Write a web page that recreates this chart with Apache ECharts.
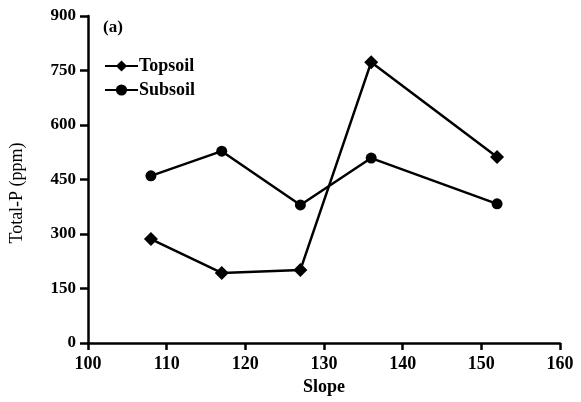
<!DOCTYPE html>
<html><head><meta charset="utf-8">
<script src="https://cdn.jsdelivr.net/npm/echarts@6/dist/echarts.min.js"></script>
<style>html,body{margin:0;padding:0;background:#fff}#c{width:581px;height:402px}</style>
</head><body><div id="c"></div>
<script>
const slopes = [108, 117, 127, 136, 152];
const topsoil = [286, 193, 201, 773, 512];
const subsoil = [460, 528, 380, 509, 383];
const xTicks = [100, 110, 120, 130, 140, 150, 160];
const yTicks = [0, 150, 300, 450, 600, 750, 900];

const FONT = 'Liberation Serif';
const chart = echarts.init(document.getElementById('c'), null, {renderer: 'canvas'});
const pair = (xs, ys) => xs.map((x, i) => [x, ys[i]]);
chart.setOption({
  animation: false,
  backgroundColor: '#fff',
  textStyle: {fontFamily: FONT, color: '#000'},
  grid: {left: 88, right: 21, top: 16, bottom: 59},
  legend: {
    orient: 'vertical', left: 104, top: 57, padding: 0, itemWidth: 33, itemHeight: 14, itemGap: 6,
    textStyle: {fontFamily: FONT, fontSize: 18, fontWeight: 'bold', color: '#000', padding: [0, 0, 0, -4]},
    data: [{name: 'Topsoil'}, {name: 'Subsoil'}]
  },
  graphic: [
    {type: 'text', left: 103, top: 19, style: {text: '(a)', font: 'bold 17px "Liberation Serif"', fill: '#000'}},
    {type: 'text', x: 17, y: 193, rotation: Math.PI / 2,
     style: {text: 'Total-P (ppm)', font: '18px "Liberation Serif"', fill: '#000', align: 'center', verticalAlign: 'middle'}}
  ],
  xAxis: {
    type: 'value', min: xTicks[0], max: xTicks[xTicks.length - 1], interval: 10,
    name: 'Slope', nameLocation: 'middle', nameGap: 29,
    nameTextStyle: {fontFamily: FONT, fontSize: 18, fontWeight: 'bold', color: '#000'},
    axisLine: {lineStyle: {color: '#000', width: 2.5}},
    axisTick: {show: true, length: 7, lineStyle: {color: '#000', width: 2.5}},
    axisLabel: {fontFamily: FONT, fontSize: 18, fontWeight: 'bold', color: '#000', margin: 12},
    splitLine: {show: false}
  },
  yAxis: {
    type: 'value', min: yTicks[0], max: yTicks[yTicks.length - 1], interval: 150,
    axisLine: {show: true, lineStyle: {color: '#000', width: 2.5}},
    axisTick: {show: true, length: 8, lineStyle: {color: '#000', width: 2.5}},
    axisLabel: {fontFamily: FONT, fontSize: 17, fontWeight: 'bold', color: '#000', margin: 12},
    splitLine: {show: false}
  },
  series: [
    {name: 'Topsoil', type: 'line', data: pair(slopes, topsoil), symbol: 'diamond', symbolSize: 14,
     lineStyle: {color: '#000', width: 2.5}, itemStyle: {color: '#000'}},
    {name: 'Subsoil', type: 'line', data: pair(slopes, subsoil), symbol: 'circle', symbolSize: 11,
     lineStyle: {color: '#000', width: 2.5}, itemStyle: {color: '#000'}}
  ]
});
</script></body></html>
